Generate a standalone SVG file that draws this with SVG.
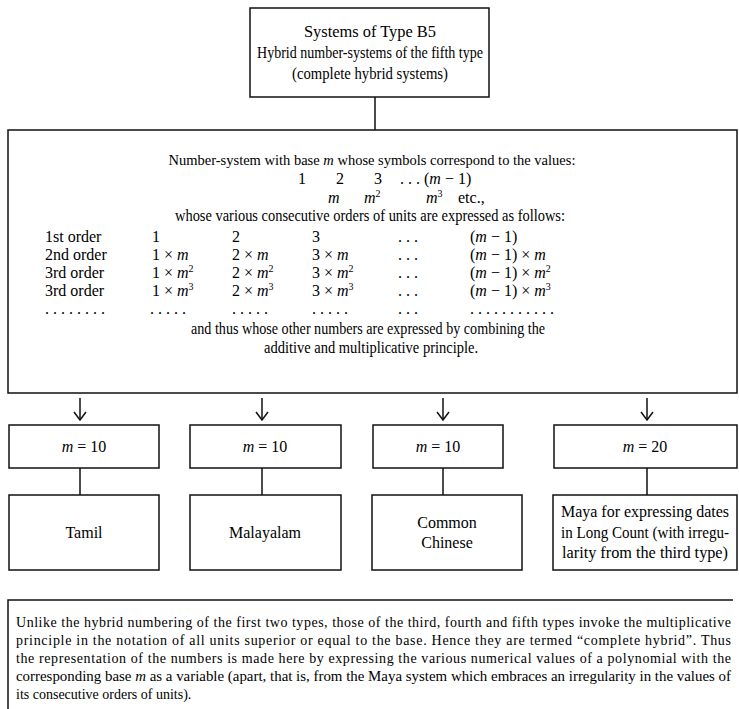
<svg xmlns="http://www.w3.org/2000/svg" width="739" height="709" viewBox="0 0 739 709">
<style>
text{font-family:"Liberation Serif","Times New Roman",serif;fill:#000;}
.t{font-size:16px;}
.b{font-size:16px;}
.k{font-size:16px;}
.s{font-size:14px;}
.c{text-anchor:middle;}
.i{font-style:italic;}
.box{fill:#fff;stroke:#111;stroke-width:1.5;}
.ln{fill:none;stroke:#111;stroke-width:1.5;}
</style>
<defs>
<marker id="ah" viewBox="0 0 10 14" refX="9" refY="7" markerWidth="10" markerHeight="14" markerUnits="userSpaceOnUse" orient="auto">
<path d="M1,1 L9,7 L1,13" fill="none" stroke="#111" stroke-width="1.5"/>
</marker>
</defs>
<rect width="739" height="709" fill="#fff"/>

<g id="connectors">
<line class="ln" x1="375" y1="97" x2="375" y2="130"/>
<line class="ln" x1="80" y1="398" x2="80" y2="420" marker-end="url(#ah)"/>
<line class="ln" x1="262" y1="398" x2="262" y2="420" marker-end="url(#ah)"/>
<line class="ln" x1="443" y1="398" x2="443" y2="420" marker-end="url(#ah)"/>
<line class="ln" x1="647" y1="398" x2="647" y2="420" marker-end="url(#ah)"/>
<line class="ln" x1="80" y1="468" x2="80" y2="495"/>
<line class="ln" x1="262" y1="468" x2="262" y2="495"/>
<line class="ln" x1="443" y1="468" x2="443" y2="495"/>
<line class="ln" x1="647" y1="468" x2="647" y2="495"/>
</g>

<g id="title">
<rect class="box" x="250" y="8" width="239" height="89"/>
<text class="t c" x="370" y="37" textLength="132" lengthAdjust="spacingAndGlyphs">Systems of Type B5</text>
<text class="t c" x="370" y="58" textLength="226" lengthAdjust="spacingAndGlyphs">Hybrid number-systems of the fifth type</text>
<text class="t c" x="370" y="79" textLength="156" lengthAdjust="spacingAndGlyphs">(complete hybrid systems)</text>
</g>

<g id="main">
<rect class="box" x="8" y="130" width="729" height="263"/>
<text class="c" font-size="14.5" x="372" y="165">Number-system with base <tspan class="i">m</tspan> whose symbols correspond to the values:</text>
<text class="b" y="184"><tspan x="298">1</tspan><tspan x="336">2</tspan><tspan x="374">3</tspan><tspan x="400">. . . (<tspan class="i">m</tspan> − 1)</tspan></text>
<text class="b" y="203"><tspan x="328" class="i">m</tspan><tspan x="364" class="i">m</tspan><tspan dy="-6" font-size="10">2</tspan><tspan x="426" dy="6" class="i">m</tspan><tspan dy="-6" font-size="10">3</tspan><tspan x="458" dy="6">etc.,</tspan></text>
<text class="b c" x="370" y="221" textLength="390" lengthAdjust="spacingAndGlyphs">whose various consecutive orders of units are expressed as follows:</text>
<g id="table">
<text class="b" y="242"><tspan x="45">1st order</tspan><tspan x="152">1</tspan><tspan x="232">2</tspan><tspan x="312">3</tspan><tspan x="398">. . .</tspan><tspan x="470">(<tspan class="i">m</tspan> − 1)</tspan></text>
<text class="b" y="260"><tspan x="45">2nd order</tspan><tspan x="152">1 × <tspan class="i">m</tspan></tspan><tspan x="232">2 × <tspan class="i">m</tspan></tspan><tspan x="312">3 × <tspan class="i">m</tspan></tspan><tspan x="398">. . .</tspan><tspan x="470">(<tspan class="i">m</tspan> − 1) × <tspan class="i">m</tspan></tspan></text>
<text class="b" y="278"><tspan x="45">3rd order</tspan><tspan x="152">1 × <tspan class="i">m</tspan><tspan dy="-6" font-size="10">2</tspan></tspan><tspan x="232" dy="6">2 × <tspan class="i">m</tspan><tspan dy="-6" font-size="10">2</tspan></tspan><tspan x="312" dy="6">3 × <tspan class="i">m</tspan><tspan dy="-6" font-size="10">2</tspan></tspan><tspan x="398" dy="6">. . .</tspan><tspan x="470">(<tspan class="i">m</tspan> − 1) × <tspan class="i">m</tspan><tspan dy="-6" font-size="10">2</tspan></tspan></text>
<text class="b" y="296"><tspan x="45">3rd order</tspan><tspan x="152">1 × <tspan class="i">m</tspan><tspan dy="-6" font-size="10">3</tspan></tspan><tspan x="232" dy="6">2 × <tspan class="i">m</tspan><tspan dy="-6" font-size="10">3</tspan></tspan><tspan x="312" dy="6">3 × <tspan class="i">m</tspan><tspan dy="-6" font-size="10">3</tspan></tspan><tspan x="398" dy="6">. . .</tspan><tspan x="470">(<tspan class="i">m</tspan> − 1) × <tspan class="i">m</tspan><tspan dy="-6" font-size="10">3</tspan></tspan></text>
<text class="b" y="314"><tspan x="45">. . . . . . . .</tspan><tspan x="150">. . . . .</tspan><tspan x="232">. . . . .</tspan><tspan x="312">. . . . .</tspan><tspan x="398">. . .</tspan><tspan x="470">. . . . . . . . . . .</tspan></text>
</g>
<text class="b c" x="368" y="334" textLength="354" lengthAdjust="spacingAndGlyphs">and thus whose other numbers are expressed by combining the</text>
<text class="b c" x="371" y="353" textLength="214" lengthAdjust="spacingAndGlyphs">additive and multiplicative principle.</text>
</g>

<g id="base1"><rect class="box" x="9" y="425" width="150" height="43"/><text class="k c" x="84" y="452"><tspan class="i">m</tspan> = 10</text></g>
<g id="base2"><rect class="box" x="190" y="425" width="151" height="43"/><text class="k c" x="265" y="452"><tspan class="i">m</tspan> = 10</text></g>
<g id="base3"><rect class="box" x="373" y="425" width="130" height="43"/><text class="k c" x="438" y="452"><tspan class="i">m</tspan> = 10</text></g>
<g id="base4"><rect class="box" x="554" y="425" width="183" height="43"/><text class="k c" x="645" y="452"><tspan class="i">m</tspan> = 20</text></g>

<g id="tamil"><rect class="box" x="9" y="495" width="150" height="75"/><text class="b c" x="84" y="538">Tamil</text></g>
<g id="malayalam"><rect class="box" x="190" y="495" width="151" height="75"/><text class="b c" x="265" y="538">Malayalam</text></g>
<g id="chinese"><rect class="box" x="372" y="495" width="150" height="75"/><text class="b c" x="447" y="528">Common</text><text class="b c" x="447" y="548">Chinese</text></g>
<g id="maya"><rect class="box" x="553" y="495" width="184" height="75"/><text class="b c" x="645" y="517" textLength="168" lengthAdjust="spacingAndGlyphs">Maya for expressing dates</text><text class="b c" x="645" y="538" textLength="168" lengthAdjust="spacingAndGlyphs">in Long Count (with irregu-</text><text class="b c" x="645" y="558" textLength="166" lengthAdjust="spacingAndGlyphs">larity from the third type)</text></g>

<g id="note">
<path class="ln" d="M8,709 V600 H733"/>
<text class="s" x="16" y="627" textLength="715" lengthAdjust="spacing">Unlike the hybrid numbering of the first two types, those of the third, fourth and fifth types invoke the multiplicative</text>
<text class="s" x="16" y="645" textLength="715" lengthAdjust="spacing">principle in the notation of all units superior or equal to the base. Hence they are termed “complete hybrid”. Thus</text>
<text class="s" x="16" y="663" textLength="715" lengthAdjust="spacing">the representation of the numbers is made here by expressing the various numerical values of a polynomial with the</text>
<text class="s" x="16" y="681" textLength="715" lengthAdjust="spacingAndGlyphs">corresponding base <tspan class="i">m</tspan> as a variable (apart, that is, from the Maya system which embraces an irregularity in the values of</text>
<text class="s" x="16" y="699">its consecutive orders of units).</text>
</g>
</svg>
